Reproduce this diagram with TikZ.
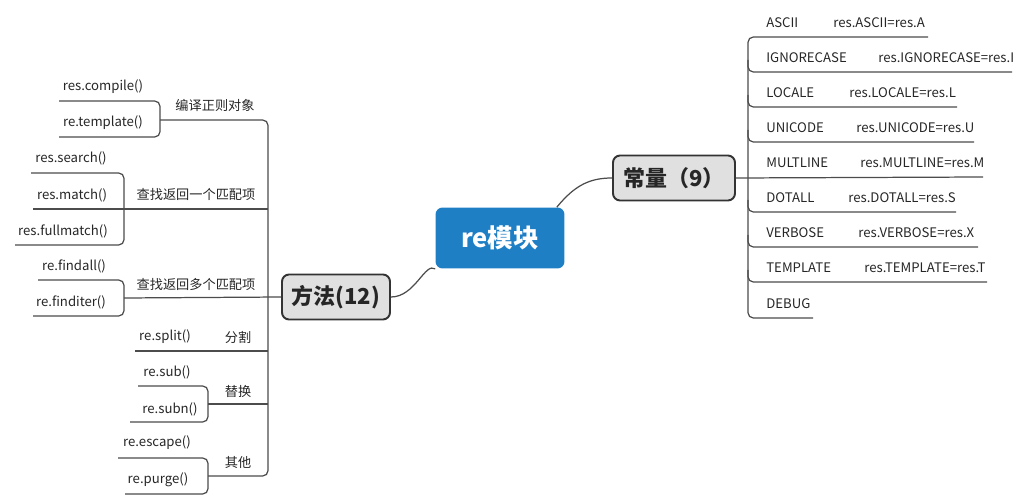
\documentclass[tikz,border=0pt]{standalone}
\usepackage{fontspec}
\setmainfont{Noto Sans CJK SC}
\usepackage{tikz}

\begin{document}
\begin{tikzpicture}[x=0.02cm,y=-0.02cm,
  every node/.style={inner sep=0pt,font=\fontsize{7.5}{8}\selectfont,text=black!85},
  branch/.style={draw=black!70,line width=0.7pt,rounded corners=3pt},
  topic/.style={draw=black!80,line width=1.1pt,rounded corners=4pt,fill=black!12,
    minimum width=#1,minimum height=0.9cm,font=\fontsize{12.5}{14}\selectfont\bfseries}]
  \useasboundingbox (0,0) rectangle (1036,500);
  \node [draw=none,fill={rgb,255:red,31;green,127;blue,196},rounded corners=4pt,
    minimum width=2.58cm,minimum height=1.22cm,text=white,
    font=\fontsize{14.5}{16}\selectfont\bfseries] (root) at (500,238) {re模块};
  \node [topic=2.44cm] (const) at (674,178) {常量（9）};
  \node [topic=2.16cm] (meth) at (336,297) {方法(12)};
  \draw [branch] (root.north east) ++(-8,0) .. controls (575,185) and (590,178) .. (const.west);
  \draw [branch] (meth.east) .. controls (415,297) and (425,262) .. (root.south west) ++(6,0);
  % constants
  \draw [branch] (const.east) -- (983,177);
  \draw [branch] (928,37) -- (748,37) -- (748,318) -- (813,318);
  \foreach \y/\r in {72/1012,107/957,142/974,212/956,247/978,282/987}
    \draw [branch] (748,\y-12) -- (748,\y) -- (\r,\y);
  \foreach \n/\k/\v/\vx/\y in {ascii/ASCII/res.ASCII=res.A/833/37,
      ignore/IGNORECASE/res.IGNORECASE=res.I/878/72,
      locale/LOCALE/res.LOCALE=res.L/849/107,
      unicode/UNICODE/res.UNICODE=res.U/856/142,
      multline/MULTLINE/res.MULTLINE=res.M/860/177,
      dotall/DOTALL/res.DOTALL=res.S/848/212,
      verbose/VERBOSE/res.VERBOSE=res.X/858/247,
      template/TEMPLATE/res.TEMPLATE=res.T/864/282} {
    \node [anchor=south west] (\n) at (766,\y-9) {\k};
    \node [anchor=south west] (\n v) at (\vx,\y-9) {\v};
  }
  \node [anchor=south west] (debug) at (766,309) {DEBUG};
  % methods
  \draw [branch] (160,120) -- (268,120) -- (268,476) -- (208,476);
  \draw [branch] (33,209) -- (268,209);
  \draw [branch] (124,298) -- (meth.west);
  \draw [branch] (135,351) -- (268,351);
  \draw [branch] (208,404) -- (268,404);
  \draw [branch] (59,101) -- (160,101) -- (160,137) -- (59,137);
  \draw [branch] (31,173) -- (124,173) -- (124,245) -- (15,245);
  \draw [branch] (38,280) -- (124,280) -- (124,316) -- (33,316);
  \draw [branch] (138,386) -- (208,386) -- (208,422) -- (130,422);
  \draw [branch] (118,458) -- (208,458) -- (208,494) -- (125,494);
  \foreach \n/\t/\x/\y in {compile/res.compile()/103/87, tmpl/re.template()/103/123,
      search/res.search()/71/158, match/res.match()/72/195, full/res.fullmatch()/63/231,
      findall/re.findall()/74/266, finditer/re.finditer()/71/302, split/re.split()/165/337,
      sub/re.sub()/167/372, subn/re.subn()/170/409, escape/re.escape()/157/443,
      purge/re.purge()/158/480}
    \node (\n) at (\x,\y) {\t};
  \foreach \n/\t/\x/\y in {comp/编译正则对象/215/105, one/查找返回一个匹配项/196/194,
      many/查找返回多个匹配项/196/284, spl/分割/238/337, rep/替换/238/391, other/其他/238/462}
    \node (\n) at (\x,\y) {\t};
\end{tikzpicture}
\end{document}
